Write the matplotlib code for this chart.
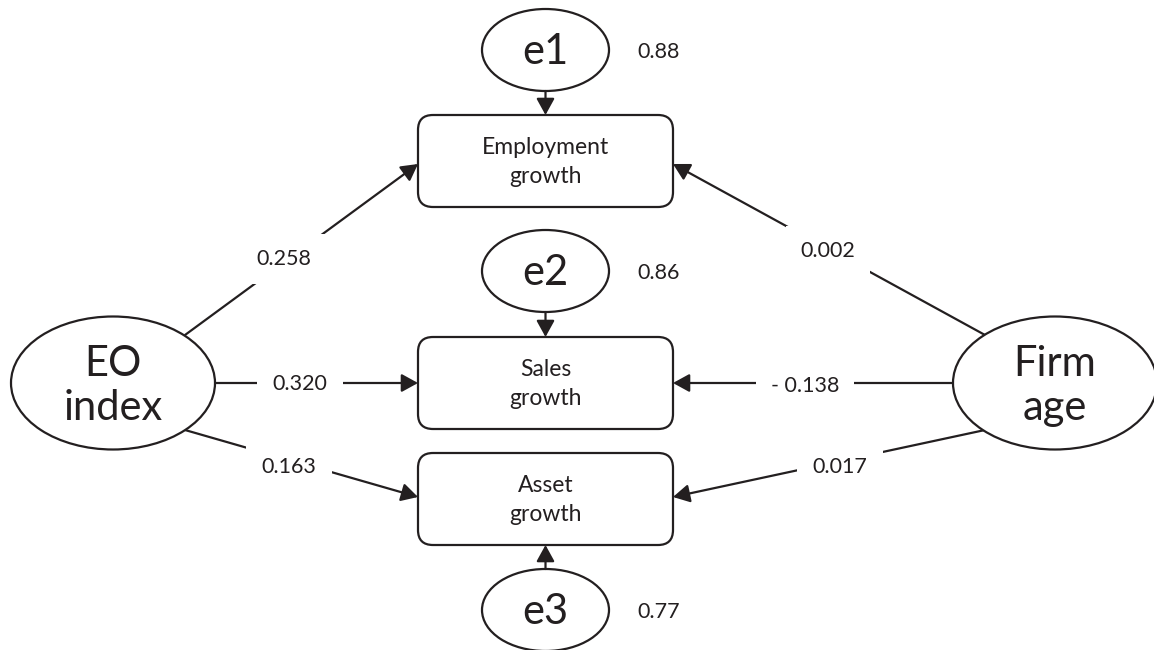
import matplotlib.pyplot as plt
from matplotlib.patches import Ellipse, FancyBboxPatch

plt.rcParams["font.family"] = ["Lato", "DejaVu Sans"]

INK = "#231f20"

# observed outcomes (boxes) and their error terms
outcomes = ["Employment\ngrowth", "Sales\ngrowth", "Asset\ngrowth"]
errors = ["e1", "e2", "e3"]
error_var = ["0.88", "0.86", "0.77"]

# exogenous variables
predictors = ["EO\nindex", "Firm\nage"]

# path coefficients: predictor -> outcome
coef_eo = ["0.258", "0.320", "0.163"]
coef_age = ["0.002", "- 0.138", "0.017"]

# layout (pixel coordinates, y downwards)
box_x, box_w, box_h = 418, 255, 92
box_top = [115, 337, 453]
err_y = [50, 271, 610]
err_w, err_h = 127, 82
pred_xy = [(113, 383), (1055, 383)]
pred_w, pred_h = 204, 133
# where the paths leave the ellipses
eo_start = [(185, 335), (215, 383), (185, 430)]
age_start = [(985, 335), (954, 383), (985, 430)]
path_end_y = [164, 383, 497]
eo_lbl_xy = [(284, 259), (300, 384), (289, 467)]
age_lbl_xy = [(828, 251), (805, 386), (840, 467)]

fig = plt.figure(figsize=(11.54, 6.5), dpi=100)
ax = fig.add_axes([0, 0, 1, 1])
ax.set_xlim(0, 1154)
ax.set_ylim(650, 0)
ax.axis("off")

arrow_kw = dict(arrowstyle="-|>,head_length=0.4,head_width=0.22", color=INK,
                lw=1.6, shrinkA=0, shrinkB=0, mutation_scale=25)

for i, name in enumerate(outcomes):
    top = box_top[i]
    ax.add_patch(FancyBboxPatch((box_x, top), box_w, box_h,
                                boxstyle="round,pad=0,rounding_size=15",
                                fc="white", ec=INK, lw=1.6, zorder=2))
    ax.text(box_x + box_w / 2, top + box_h / 2 + 1, name, ha="center",
            va="center", fontsize=16.5, color=INK, linespacing=1.45, zorder=3)

    # error ellipse
    cx = box_x + box_w / 2
    ax.add_patch(Ellipse((cx, err_y[i]), err_w, err_h, fc="white", ec=INK,
                         lw=1.6, zorder=2))
    ax.text(cx, err_y[i] + 2, errors[i], ha="center", va="center",
            fontsize=30, color=INK, zorder=3)
    ax.text(cx + 113, err_y[i] + 2, error_var[i], ha="center", va="center",
            fontsize=15.5, color=INK)
    if i < 2:
        ax.annotate("", xy=(cx, top), xytext=(cx, err_y[i] + err_h / 2),
                    arrowprops=arrow_kw)
    else:
        ax.annotate("", xy=(cx, top + box_h), xytext=(cx, err_y[i] - err_h / 2),
                    arrowprops=arrow_kw)

for (px, py), name in zip(pred_xy, predictors):
    ax.add_patch(Ellipse((px, py), pred_w, pred_h, fc="white", ec=INK,
                         lw=1.6, zorder=2))
    ax.text(px, py + 3, name, ha="center", va="center", fontsize=30,
            color=INK, linespacing=1.2, zorder=3)

lbl_box = dict(boxstyle="square,pad=0.7", fc="white", ec="none")
for i in range(3):
    ax.annotate("", xy=(box_x, path_end_y[i]), xytext=eo_start[i],
                arrowprops=arrow_kw, zorder=1)
    ax.text(*eo_lbl_xy[i], coef_eo[i], ha="center", va="center", fontsize=15.5,
            color=INK, bbox=lbl_box, zorder=1.5)
    ax.annotate("", xy=(box_x + box_w, path_end_y[i]), xytext=age_start[i],
                arrowprops=arrow_kw, zorder=1)
    ax.text(*age_lbl_xy[i], coef_age[i], ha="center", va="center", fontsize=15.5,
            color=INK, bbox=lbl_box, zorder=1.5)

fig.savefig("out.png", dpi=100)
